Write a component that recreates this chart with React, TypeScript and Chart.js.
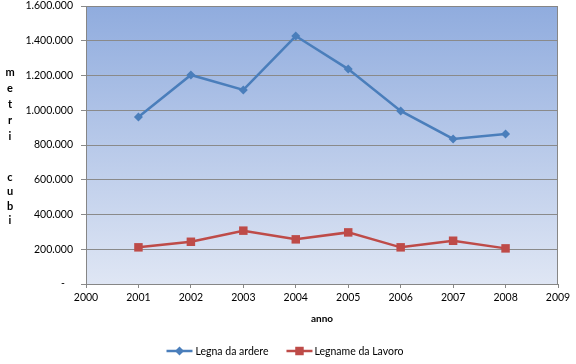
import React, { useEffect, useRef } from "react";
import { Chart, registerables } from "chart.js";

Chart.register(...registerables);

const years = [2001, 2002, 2003, 2004, 2005, 2006, 2007, 2008];
const legnaArdere = [961000, 1203000, 1117000, 1427000, 1237000, 996000, 835000, 863000];
const legnameLavoro = [211000, 243000, 307000, 257000, 297000, 211000, 249000, 205000];
const seriesNames = ["Legna da ardere", "Legname da Lavoro"];
const yTitleWords = ["metri", "cubi"];
const xTitle = "anno";

const BLUE = "#4a7ebb";
const RED = "#be4b48";
const FONT = "Lato, 'DejaVu Sans', sans-serif";

function fmt(v: number): string {
  if (v === 0) return "-   ";
  const s = String(Math.round(v));
  return s.replace(/\B(?=(\d{3})+(?!\d))/g, ".");
}

function drawMarker(ctx: CanvasRenderingContext2D, style: string, x: number, y: number, r: number) {
  ctx.beginPath();
  if (style === "rectRot") {
    ctx.moveTo(x, y - r);
    ctx.lineTo(x + r, y);
    ctx.lineTo(x, y + r);
    ctx.lineTo(x - r, y);
    ctx.closePath();
  } else {
    const s = r * Math.SQRT1_2;
    ctx.rect(x - s, y - s, 2 * s, 2 * s);
  }
  ctx.fill();
}

const decorPlugin = {
  id: "decor",
  beforeDraw(chart: any) {
    const { ctx, chartArea: a } = chart;
    ctx.save();
    const g = ctx.createLinearGradient(0, a.top, 0, a.bottom);
    g.addColorStop(0, "#90acde");
    g.addColorStop(1, "#dfe6f4");
    ctx.fillStyle = g;
    ctx.fillRect(a.left, a.top, a.right - a.left, a.bottom - a.top);
    ctx.restore();
  },
  beforeDatasetsDraw(chart: any) {
    const { ctx, chartArea: a } = chart;
    ctx.save();
    ctx.strokeStyle = "#868686";
    ctx.lineWidth = 1;
    ctx.strokeRect(a.left + 0.5, a.top + 0.5, a.right - a.left - 1, a.bottom - a.top);
    ctx.restore();
  },
  afterDraw(chart: any) {
    const { ctx, chartArea: a, width } = chart;
    ctx.save();
    ctx.fillStyle = "#000";
    ctx.font = "bold 11px " + FONT;
    ctx.textAlign = "center";
    ctx.textBaseline = "middle";
    const starts = [72, 177];
    const steps = [16.2, 14.5];
    yTitleWords.forEach((w, wi) => {
      w.split("").forEach((ch, i) => {
        ctx.fillText(ch, 10, starts[wi] + i * steps[wi]);
      });
    });
    ctx.font = "bold 10px " + FONT;
    ctx.fillText(xTitle, (a.left + a.right) / 2, 319);
    ctx.font = "10.5px " + FONT;
    ctx.textAlign = "left";
    const colors = [BLUE, RED];
    const styles = ["rectRot", "rect"];
    const radii = [4.5, 6];
    const lineW = 26;
    const widths = seriesNames.map((n) => ctx.measureText(n).width);
    const total = lineW + 3 + widths[0] + 18 + lineW + 2 + widths[1];
    let x = width / 2 - 3 - total / 2;
    const y = 351;
    seriesNames.forEach((n, i) => {
      ctx.strokeStyle = colors[i];
      ctx.lineWidth = 2.5;
      ctx.beginPath();
      ctx.moveTo(x, y);
      ctx.lineTo(x + lineW, y);
      ctx.stroke();
      ctx.fillStyle = colors[i];
      drawMarker(ctx, styles[i], x + lineW / 2, y, radii[i]);
      ctx.fillStyle = "#000";
      x += lineW + (i === 0 ? 3 : 2);
      ctx.fillText(n, x, y + 0.5);
      x += widths[i] + 18;
    });
    ctx.restore();
  },
};

export default function App() {
  const ref = useRef<HTMLCanvasElement | null>(null);
  useEffect(() => {
    if (!ref.current) return;
    const chart = new Chart(ref.current, {
      type: "line",
      data: {
        datasets: [
          {
            label: seriesNames[0],
            data: years.map((yr, i) => ({ x: yr, y: legnaArdere[i] })),
            borderColor: BLUE,
            backgroundColor: BLUE,
            borderWidth: 2.5,
            pointStyle: "rectRot",
            pointRadius: 4.5,
            pointBorderWidth: 0,
            tension: 0,
          },
          {
            label: seriesNames[1],
            data: years.map((yr, i) => ({ x: yr, y: legnameLavoro[i] })),
            borderColor: RED,
            backgroundColor: RED,
            borderWidth: 2.5,
            pointStyle: "rect",
            pointRadius: 6,
            pointBorderWidth: 0,
            tension: 0,
          },
        ],
      },
      options: {
        animation: false,
        responsive: false,
        maintainAspectRatio: false,
        layout: { padding: { top: 6, right: 18, left: 0, bottom: 0 } },
        plugins: { legend: { display: false }, tooltip: { enabled: false } },
        scales: {
          x: {
            type: "linear",
            min: 2000,
            max: 2009,
            afterFit: (s: any) => {
              s.height = 80;
              s.paddingLeft = 0;
              s.paddingRight = 0;
            },
            ticks: {
              stepSize: 1,
              color: "#000",
              font: { family: FONT, size: 10.5 },
              padding: 3,
              maxRotation: 0,
              callback: (v: any) => String(v),
            },
            grid: { drawOnChartArea: false, drawTicks: true, tickLength: 4, color: "#868686" },
            border: { color: "#868686" },
          },
          y: {
            min: 0,
            max: 1600000,
            afterFit: (s: any) => {
              s.width = 86;
              s.paddingTop = 0;
              s.paddingBottom = 0;
            },
            ticks: {
              stepSize: 200000,
              color: "#000",
              font: { family: FONT, size: 10.5 },
              padding: 8,
              callback: (v: any) => fmt(Number(v)),
            },
            grid: { color: "#8a8a8a", tickLength: 5 },
            border: { color: "#868686" },
          },
        },
      },
      plugins: [decorPlugin],
    } as any);
    return () => chart.destroy();
  }, []);
  return (
    <div style={{ position: "absolute", left: 0, top: 0, width: 576, height: 364, background: "#fff" }}>
      <canvas ref={ref} width={576} height={364} style={{ width: 576, height: 364 }} />
    </div>
  );
}
